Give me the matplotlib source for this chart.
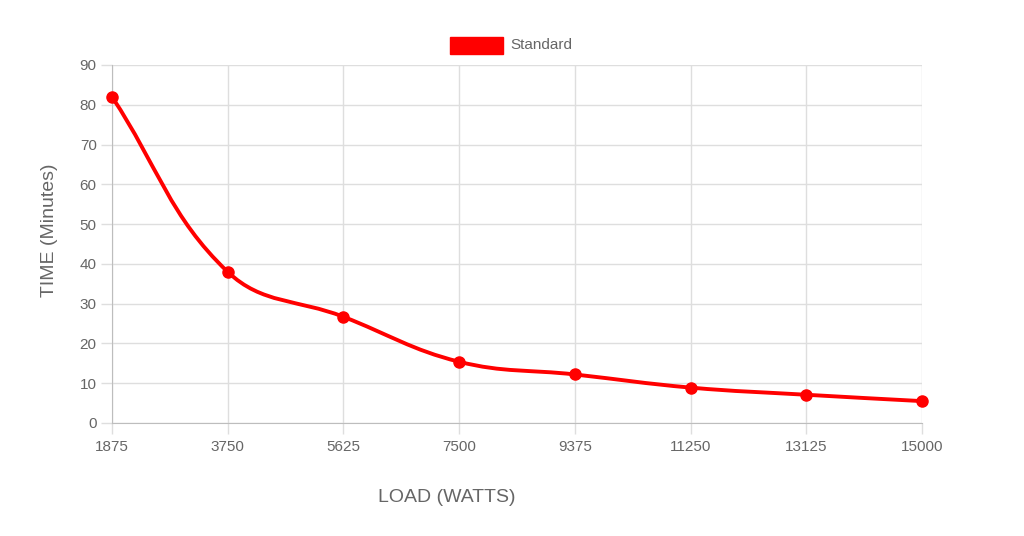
import matplotlib.pyplot as plt
import numpy as np
from matplotlib.path import Path
from matplotlib.patches import PathPatch, Rectangle

# data
loads = [1875, 3750, 5625, 7500, 9375, 11250, 13125, 15000]
times = [82, 38, 26.7, 15.4, 12.2, 8.9, 7.1, 5.5]
series_name = "Standard"

RED = "#ff0000"
GREY = "#666666"
TENSION = 0.4

plt.rcParams["font.family"] = ["Liberation Sans", "DejaVu Sans"]


def spline_path(ax, xs, ys, tension=TENSION):
    """Chart.js style cubic bezier through the points (computed in pixel space)."""
    pts = ax.transData.transform(np.column_stack([xs, ys]))
    n = len(pts)
    cps = []
    for i in range(n):
        prev = pts[max(i - 1, 0)]
        cur = pts[i]
        nxt = pts[min(i + 1, n - 1)]
        d01 = np.hypot(*(cur - prev))
        d12 = np.hypot(*(nxt - cur))
        tot = d01 + d12
        s01 = d01 / tot if tot else 0
        s12 = d12 / tot if tot else 0
        cp_prev = cur - tension * s01 * (nxt - prev)
        cp_next = cur + tension * s12 * (nxt - prev)
        cps.append((cp_prev, cp_next))
    verts = [pts[0]]
    codes = [Path.MOVETO]
    for i in range(1, n):
        verts += [cps[i - 1][1], cps[i][0], pts[i]]
        codes += [Path.CURVE4] * 3
    verts = ax.transData.inverted().transform(np.array(verts))
    return Path(verts, codes)


fig = plt.figure(figsize=(10.24, 5.36), dpi=100)
ax = fig.add_axes([112 / 1024, 1 - 423 / 536, 810 / 1024, 358 / 536])

ax.set_xlim(loads[0], loads[-1])
ax.set_ylim(0, 90)
ax.set_xticks(loads)
ax.set_xticklabels([str(v) for v in loads])
ax.set_yticks(np.arange(0, 91, 10))

ax.grid(True, color="#dedede", linewidth=1)
ax.set_axisbelow(True)
for side in ["top", "right"]:
    ax.spines[side].set_visible(False)
for side in ["left", "bottom"]:
    ax.spines[side].set_color("#bdbdbd")
ax.tick_params(colors="#dedede", labelcolor=GREY, labelsize=11, length=8, width=1)
ax.tick_params(axis="x", pad=4)
ax.tick_params(axis="y", pad=3)

path = spline_path(ax, loads, times)
ax.add_patch(PathPatch(path, facecolor="none", edgecolor=RED, linewidth=2.8,
                       capstyle="round", joinstyle="round", zorder=3))
ax.plot(loads, times, linestyle="none", marker="o", markersize=8,
        markerfacecolor=RED, markeredgecolor=RED, clip_on=False, zorder=4)

# legend like chart.js
fig.patches.append(Rectangle((450 / 1024, 1 - 54 / 536), 53 / 1024, 17 / 536,
                             transform=fig.transFigure, facecolor=RED,
                             edgecolor=RED, figure=fig))
fig.text(510 / 1024, 1 - 45 / 536, series_name, color=GREY, fontsize=11,
         ha="left", va="center")

fig.text(50 / 1024, 1 - 230 / 536, "TIME (Minutes)", color=GREY, fontsize=14,
         rotation=90, ha="center", va="center")
fig.text(447 / 1024, 1 - 498 / 536, "LOAD (WATTS)", color=GREY, fontsize=14,
         ha="center", va="center")

fig.savefig("out.png", dpi=100)
